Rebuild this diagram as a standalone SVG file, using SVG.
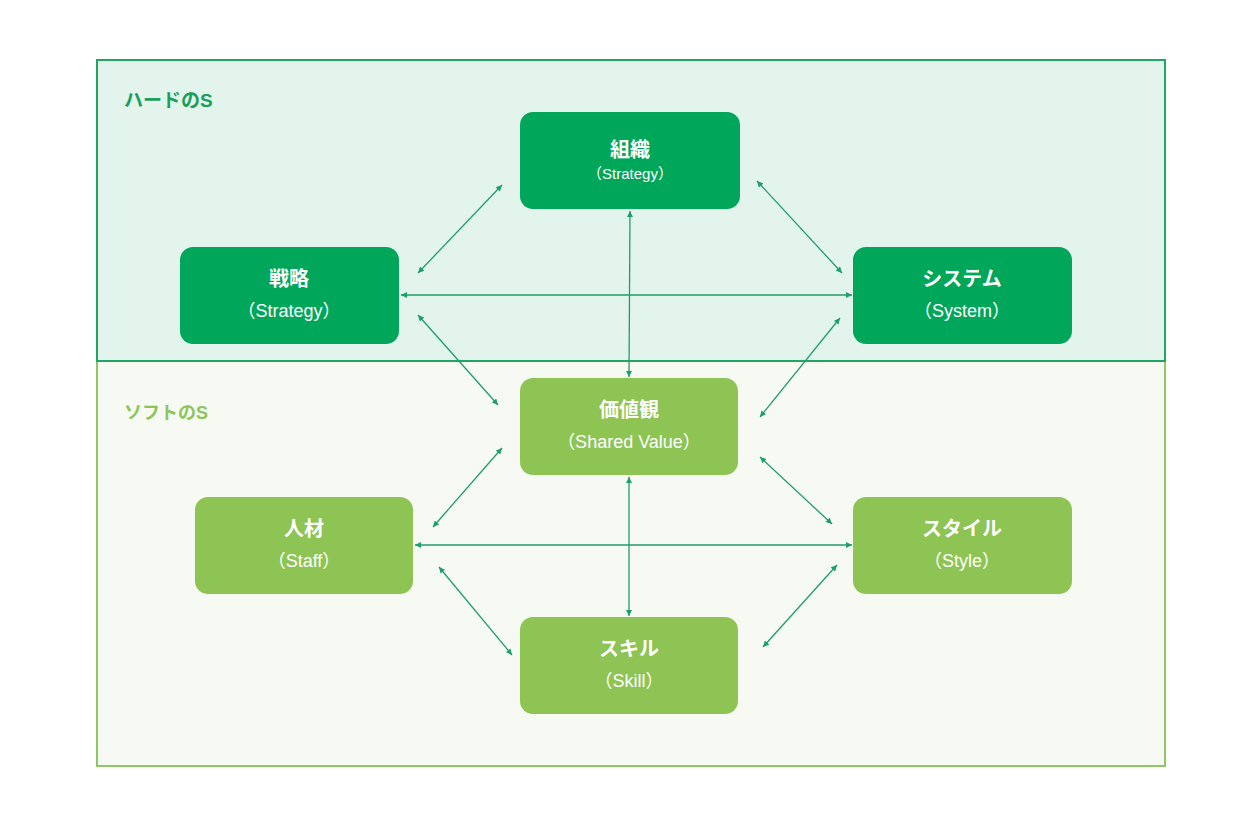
<svg xmlns="http://www.w3.org/2000/svg" width="1260" height="840" viewBox="0 0 1260 840">
<defs>
<marker id="ah" viewBox="0 0 10 10" refX="10" refY="5" markerWidth="7" markerHeight="6" markerUnits="userSpaceOnUse" orient="auto-start-reverse">
<path d="M0,0 L10,5 L0,10 z" fill="#1e9e6a"/>
</marker>
<style>
text{font-family:"Liberation Sans","Noto Sans CJK JP",sans-serif;}
.hard{fill:#00a65a;}
.soft{fill:#8dc453;}
.t{fill:#ffffff;font-size:20px;font-weight:bold;text-anchor:middle;}
.s{fill:#ffffff;font-size:18px;text-anchor:middle;}
.c line{stroke:#1e9e6a;stroke-width:1.3;marker-start:url(#ah);marker-end:url(#ah);}
</style>
</defs>
<rect width="1260" height="840" fill="#ffffff"/>
<g id="soft-area">
<rect x="97" y="361" width="1068" height="405" fill="#f6faf3" stroke="#8dc862" stroke-width="2"/>
<text x="124" y="419" font-size="18" font-weight="bold" fill="#8cc65a">ソフトのS</text>
</g>
<g id="hard-area">
<rect x="97" y="60" width="1068" height="301" fill="#e3f4ec" stroke="#22a564" stroke-width="2"/>
<text x="124" y="107" font-size="19" font-weight="bold" fill="#1a9e5c">ハードのS</text>
</g>
<g class="c" id="connectors">
<line x1="502" y1="185" x2="418" y2="273"/>
<line x1="757" y1="181" x2="842" y2="273"/>
<line x1="401" y1="295" x2="852" y2="295"/>
<line x1="630" y1="211" x2="629" y2="377"/>
<line x1="418" y1="315" x2="498" y2="405"/>
<line x1="840" y1="318" x2="760" y2="417"/>
<line x1="502" y1="448" x2="433" y2="527"/>
<line x1="760" y1="457" x2="832" y2="524"/>
<line x1="415" y1="545" x2="852" y2="545"/>
<line x1="629" y1="477" x2="629" y2="616"/>
<line x1="439" y1="567" x2="512" y2="655"/>
<line x1="837" y1="565" x2="763" y2="647"/>
</g>
<g id="n-soshiki">
<rect class="hard" x="520" y="112" width="220" height="97" rx="13"/>
<text class="t" x="630" y="157">組織</text>
<text class="s" x="630" y="179" style="font-size:15px">（Strategy）</text>
</g>
<g id="n-senryaku">
<rect class="hard" x="180" y="247" width="219" height="97" rx="13"/>
<text class="t" x="289" y="286">戦略</text>
<text class="s" x="289" y="317">（Strategy）</text>
</g>
<g id="n-system">
<rect class="hard" x="853" y="247" width="219" height="97" rx="13"/>
<text class="t" x="962" y="286">システム</text>
<text class="s" x="962" y="317">（System）</text>
</g>
<g id="n-kachikan">
<rect class="soft" x="520" y="378" width="218" height="97" rx="13"/>
<text class="t" x="629" y="417">価値観</text>
<text class="s" x="629" y="448">（Shared Value）</text>
</g>
<g id="n-jinzai">
<rect class="soft" x="195" y="497" width="218" height="97" rx="13"/>
<text class="t" x="304" y="536">人材</text>
<text class="s" x="304" y="567">（Staff）</text>
</g>
<g id="n-style">
<rect class="soft" x="853" y="497" width="219" height="97" rx="13"/>
<text class="t" x="962" y="536">スタイル</text>
<text class="s" x="962" y="567">（Style）</text>
</g>
<g id="n-skill">
<rect class="soft" x="520" y="617" width="218" height="97" rx="13"/>
<text class="t" x="629" y="656">スキル</text>
<text class="s" x="629" y="687">（Skill）</text>
</g>
</svg>
